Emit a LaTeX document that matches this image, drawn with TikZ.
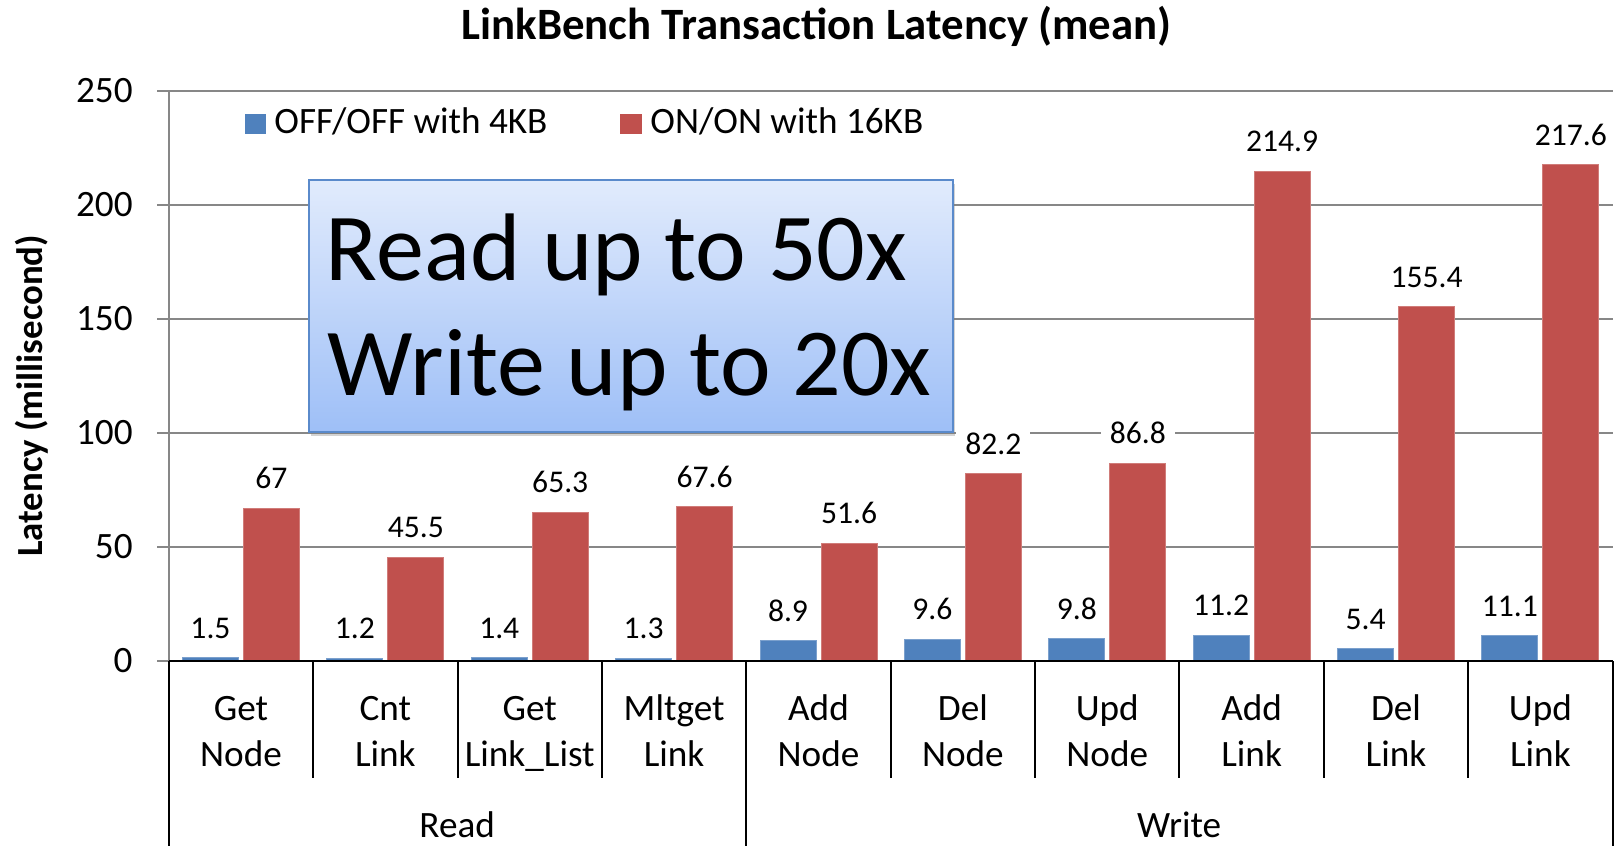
\documentclass[tikz,border=0pt]{standalone}
\usepackage{fontspec}
\setmainfont{Carlito}
\usetikzlibrary{shadows}
\definecolor{barblue}{HTML}{4F81BD}
\definecolor{barred}{HTML}{C0504D}
\definecolor{gridgray}{HTML}{878787}
\definecolor{boxtop}{HTML}{E1EBFC}
\definecolor{boxbot}{HTML}{9EBFF7}
\definecolor{boxedge}{HTML}{5A8ACB}
\begin{document}
\begin{tikzpicture}[x=0.5pt,y=-0.5pt,
  gridline/.style={draw=gridgray,line width=1pt},
  catline/.style={draw=black,line width=1pt},
  ticklabel/.style={anchor=base east,inner sep=0pt,font=\fontsize{18.6}{22}\selectfont},
  vallabel/.style={anchor=base,fill=white,inner xsep=4.5pt,inner ysep=1pt,font=\fontsize{15.8}{18}\selectfont},
  catlabel/.style={anchor=base,inner sep=0pt,font=\fontsize{18.6}{22}\selectfont},
  legendtext/.style={anchor=base west,inner sep=0pt,font=\fontsize{18.6}{22}\selectfont},
  bigtext/.style={anchor=base west,inner sep=0pt,font=\fontsize{48}{57}\selectfont},
  bluebar/.style={fill=barblue,draw=barblue!75!white,line width=0.5pt},
  redbar/.style={fill=barred,draw=barred!75!white,line width=0.5pt},
]
\useasboundingbox (0,0) rectangle (1624,846);

% title
\node[anchor=base,inner sep=0pt,font=\bfseries\fontsize{22.4}{25}\selectfont] (title)
  at (816.5,39.5) {LinkBench Transaction Latency (mean)};

% value axis title
\node[rotate=90,inner sep=0pt,font=\bfseries\fontsize{18.4}{22}\selectfont] (ytitle)
  at (31.5,396) {Latency (millisecond)};

% gridlines, ticks and tick labels
\foreach \v in {50,100,150,200,250}{
  \pgfmathsetmacro\gy{661-\v*2.28}
  \draw[gridline] (157,\gy) -- (1612.5,\gy);
}
\draw[gridline] (157,661) -- (168.8,661);
\foreach \v in {0,50,100,150,200,250}{
  \pgfmathsetmacro\gy{661-\v*2.28}
  \node[ticklabel] (tick\v) at (133,\gy+11.2) {\v};
}
\draw[gridline] (168.8,91) -- (168.8,661);

% legend
\fill[barblue] (245,113.5) rectangle (266,133.5);
\node[legendtext] (legblue) at (274,133.5) {OFF/OFF with 4KB};
\fill[barred] (620,113.5) rectangle (641.5,133.5);
\node[legendtext] (legred) at (650,133.5) {ON/ON with 16KB};

% value labels (white backing breaks the gridlines), then the bars
\foreach \i/\b/\r/\rt in {1/1.5/67/67,2/1.2/45.5/45.5,3/1.4/65.3/65.3,4/1.3/67.6/67.6,
    5/8.9/51.6/51.6,6/9.6/82.2/82.2,7/9.8/86.8/86.8,8/11.2/214.9/214.9,
    9/5.4/155.4/155.4,10/11.1/217.6/217.6}{
  \pgfmathsetmacro\c{168.8+144.38*(\i-0.5)}
  \pgfmathsetmacro\by{661-\b*2.28}
  \pgfmathsetmacro\ry{661-\r*2.28}
  \node[vallabel] (bval\i) at (\c-30.5,\by-19.5) {\b};
  \node[vallabel] (rval\i) at (\c+30.5,\ry-19.5) {\rt};
}
\foreach \i/\b/\r in {1/1.5/67,2/1.2/45.5,3/1.4/65.3,4/1.3/67.6,
    5/8.9/51.6,6/9.6/82.2,7/9.8/86.8,8/11.2/214.9,9/5.4/155.4,10/11.1/217.6}{
  \pgfmathsetmacro\c{168.8+144.38*(\i-0.5)}
  \pgfmathsetmacro\by{661-\b*2.28}
  \pgfmathsetmacro\ry{661-\r*2.28}
  \filldraw[bluebar] (\c-58.5,\by) rectangle (\c-2.5,661);
  \filldraw[redbar] (\c+2.5,\ry) rectangle (\c+58.5,661);
}

% category axis with its two-level labels
\draw[catline] (168.8,661) -- (1612.6,661);
\foreach \i in {1,2,3,5,6,7,8,9}{
  \pgfmathsetmacro\sx{168.8+144.38*\i}
  \draw[catline] (\sx,661) -- (\sx,778);
}
\foreach \i in {0,4,10}{
  \pgfmathsetmacro\sx{168.8+144.38*\i}
  \draw[catline] (\sx,661) -- (\sx,850);
}
\foreach \i/\top/\bot in {1/Get/Node,2/Cnt/Link,3/Get/Link\_List,4/Mltget/Link,
    5/Add/Node,6/Del/Node,7/Upd/Node,8/Add/Link,9/Del/Link,10/Upd/Link}{
  \pgfmathsetmacro\c{168.8+144.38*(\i-0.5)}
  \node[catlabel] (cattop\i) at (\c,720.5) {\top};
  \node[catlabel] (catbot\i) at (\c,766.9) {\bot};
}
\node[catlabel] (grpread) at (457.2,837) {Read};
\node[catlabel] (grpwrite) at (1179.1,837) {Write};

% callout box
\node[draw=boxedge,line width=1pt,top color=boxtop,bottom color=boxbot,
  minimum width=644.3pt*0.5,minimum height=252pt*0.5,inner sep=0pt,anchor=north west,
  drop shadow={shadow xshift=1pt,shadow yshift=-1.8pt,opacity=0.35}] (callout)
  at (307.7,179) {};
\node[bigtext] (line1) at (325.5,280) {Read up to 50x};
\node[bigtext] (line2) at (327.5,395) {Write up to 20x};
\end{tikzpicture}
\end{document}
